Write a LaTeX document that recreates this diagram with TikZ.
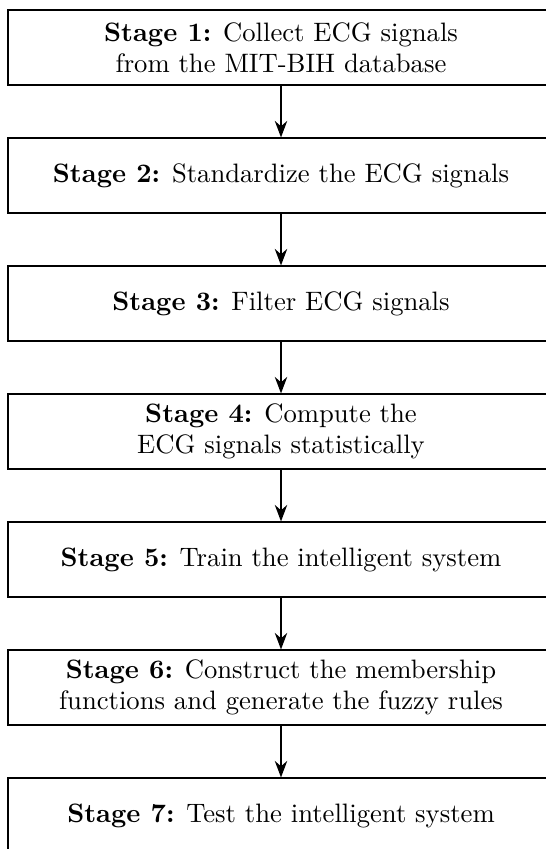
\documentclass[tikz,border=0pt]{standalone}
\usetikzlibrary{arrows.meta}
\begin{document}
\begin{tikzpicture}[
  stagebox/.style={draw, line width=0.45pt, minimum width=218.4pt, minimum height=30pt,
    align=center, inner sep=2pt, font=\fontsize{10.66pt}{12.4pt}\selectfont},
  flow/.style={-Stealth, thick}
]
\useasboundingbox (0,0) rectangle (218pt,-339.6pt);
\node[stagebox] (s1) at (112.4pt,-19pt) {\textbf{Stage 1:} Collect ECG signals\\from the MIT-BIH database};
\node[stagebox] (s2) at (112.4pt,-70.2pt) {\textbf{Stage 2:} Standardize the ECG signals};
\node[stagebox] (s3) at (112.4pt,-121.4pt) {\textbf{Stage 3:} Filter ECG signals};
\node[stagebox] (s4) at (112.4pt,-172.6pt) {\textbf{Stage 4:} Compute the\\ECG signals statistically};
\node[stagebox] (s5) at (112.4pt,-223.8pt) {\textbf{Stage 5:} Train the intelligent system};
\node[stagebox] (s6) at (112.4pt,-275pt) {\textbf{Stage 6:} Construct the membership\\functions and generate the fuzzy rules};
\node[stagebox] (s7) at (112.4pt,-326.2pt) {\textbf{Stage 7:} Test the intelligent system};
\foreach \a/\b in {s1/s2,s2/s3,s3/s4,s4/s5,s5/s6,s6/s7}
  \draw[flow] (\a) -- (\b);
\end{tikzpicture}
\end{document}
